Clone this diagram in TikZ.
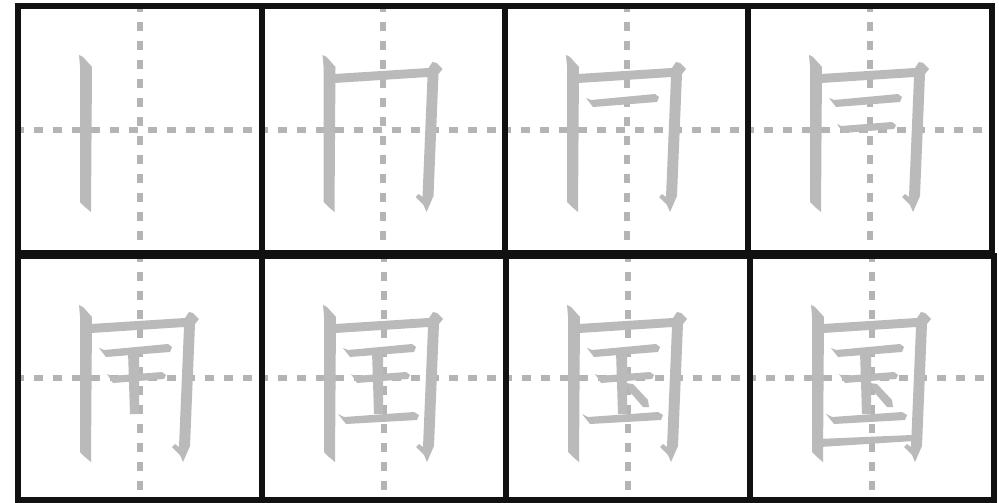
\documentclass[tikz,border=0pt]{standalone}
\usepackage{xcolor}
\usepackage{tikz}
\definecolor{gridline}{HTML}{111111}
\definecolor{guidegray}{HTML}{B4B4B4}
\definecolor{inkgray}{HTML}{BABABA}
\tikzset{
  guide/.style={guidegray,line width=6pt,dash pattern=on 9pt off 10pt},
  hanzi/.style={fill=inkgray},
  cellgrid/.style={gridline,line width=6pt}
}
% strokes of the character, cell coordinates in px, y downwards
\newcommand{\bihua}[1]{%
  \ifcase#1\relax
  \or \fill[hanzi] (61,49) -- (65,51) -- (74,61) -- (73,206) -- (67,201) -- (62,196) -- (62,60) -- cycle;
  \or \fill[hanzi] (73,68) -- (167,62) -- (171,56) -- (175,57) -- (181,63) -- (177,68) -- (172,190) -- (165,206) -- (162,199) -- (154,191) -- (157,188) -- (161,191) -- (166,71) -- (73,77) -- cycle;
  \or \fill[hanzi] (81,92) -- (86,94) -- (150,88) -- (154,91) -- (152,96) -- (88,101) -- cycle;
  \or \fill[hanzi] (89,118) -- (93,120) -- (144,116) -- (148,119) -- (146,123) -- (95,127) -- cycle;
  \or \fill[hanzi] (110,95) -- (121,99) -- (121,158) -- (112,158) -- cycle;
  \or \fill[hanzi] (76,158) -- (82,161) -- (152,156) -- (157,159) -- (155,164) -- (84,168) -- cycle;
  \or \fill[hanzi] (120,127) -- (127,128) -- (142,144) -- (143,151) -- (137,151) -- (124,136) -- cycle;
  \or \fill[hanzi] (68,183) -- (162,179) -- (164,185) -- (70,191) -- cycle;
  \fi}

\begin{document}
\begin{tikzpicture}[x=1pt,y=-1pt]
\useasboundingbox[fill=white] (0,0) rectangle (999,503);
\foreach \n/\ox/\oy/\w/\h in {1/18/6/243.5/247, 2/261.5/6/243.5/247, 3/505/6/243/247, 4/748/6/244/247,
                              5/18/256/244/244, 6/262/256/244/244, 7/506/256/244/244, 8/750/256/244/244}{
  \draw[guide] ({\ox-3},{\oy+\h/2}) -- ({\ox+\w+3},{\oy+\h/2});
  \draw[guide] ({\ox+\w/2},{\oy-3}) -- ({\ox+\w/2},{\oy+\h+3});
  \begin{scope}[shift={(\ox,\oy)}]
    \foreach \k in {1,...,\n}{\bihua{\k}}
  \end{scope}
}
% grid of the two rows
\draw[cellgrid] (18,6) rectangle (992,253);
\foreach \gx in {261.5,505,748} \draw[cellgrid] (\gx,6) -- (\gx,253);
\draw[cellgrid] (18,256) rectangle (994,500);
\foreach \gx in {262,506,750} \draw[cellgrid] (\gx,256) -- (\gx,500);
\end{tikzpicture}
\end{document}
